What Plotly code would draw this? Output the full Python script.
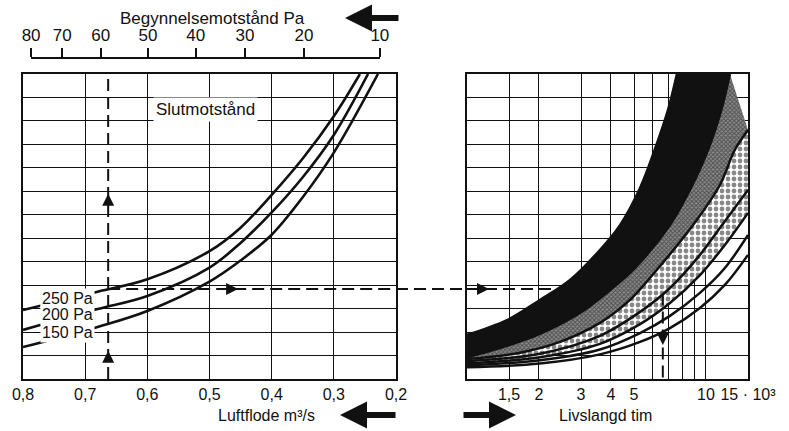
import math
import plotly.graph_objects as go

W, H = 789, 431
BLACK = "#111111"
FONT = "Liberation Sans, Arial, Helvetica, sans-serif"

# ---------------- Left panel: air flow (m3/s) ----------------
flow_ticks = [0.8, 0.7, 0.6, 0.5, 0.4, 0.3, 0.2]
flow_labels = ["0,8", "0,7", "0,6", "0,5", "0,4", "0,3", "0,2"]

# top scale: initial resistance (Pa), placed at the flow where it occurs
init_res_labels = ["80", "70", "60", "50", "40", "30", "20", "10"]
init_res_flow = [0.787, 0.737, 0.675, 0.599, 0.522, 0.443, 0.348, 0.226]

# final resistance curves (y in grid units, 0..13)
c250_q = [0.80, 0.68, 0.60, 0.50, 0.45, 0.40, 0.35, 0.30, 0.258]
c250_u = [2.94, 3.72, 4.25, 5.45, 6.45, 7.85, 9.40, 11.2, 13.0]
c200_q = [0.80, 0.68, 0.60, 0.50, 0.45, 0.40, 0.35, 0.30, 0.245]
c200_u = [2.09, 2.98, 3.54, 4.75, 5.80, 7.10, 8.60, 10.4, 13.0]
c150_q = [0.80, 0.68, 0.60, 0.50, 0.45, 0.40, 0.35, 0.30, 0.229]
c150_u = [1.36, 2.22, 2.90, 4.15, 5.05, 6.15, 7.75, 9.65, 13.0]
pa_labels = ["250 Pa", "200 Pa", "150 Pa"]
pa_label_u = [3.45, 2.73, 2.0]
pa_label_q = 0.684

# ---------------- Right panel: lifetime (10^3 h) ----------------
life_ticks = [1.5, 2, 3, 4, 5, 6, 7, 8, 9, 10, 15]
life_labels = ["1,5", "2", "3", "4", "5", "", "", "", "", "10", "15 · 10³"]

b1_x = [1.0, 1.47, 2.02, 2.70, 3.60, 4.37, 5.30, 6.10, 6.94, 7.56]
b1_u = [1.88, 2.51, 3.37, 4.22, 5.50, 6.56, 8.14, 9.76, 11.47, 13.0]
b2_x = [1.0, 1.47, 2.02, 2.97, 3.97, 5.04, 7.07, 8.57, 10.2, 11.6, 12.6]
b2_u = [0.92, 1.41, 1.92, 2.81, 3.79, 4.73, 6.56, 8.06, 9.76, 11.47, 13.0]
b3_x = [1.0, 1.667, 2.45, 3.60, 4.81, 6.12, 8.83, 11.44, 13.2, 15.0]
b3_u = [0.85, 1.12, 1.58, 2.39, 3.37, 4.56, 6.56, 8.27, 9.76, 10.61]
b4_x = [1.0, 2.02, 3.60, 5.30, 7.07, 9.44, 11.44, 15.0]
b4_u = [0.76, 1.08, 1.84, 2.86, 3.88, 5.29, 6.44, 8.06]
b5_x = [1.0, 2.02, 3.60, 5.30, 7.07, 9.44, 12.0, 15.0]
b5_u = [0.67, 0.93, 1.50, 2.34, 3.24, 4.43, 5.71, 7.08]
b6_x = [1.0, 2.02, 3.60, 5.30, 7.07, 9.44, 12.0, 15.0]
b6_u = [0.59, 0.80, 1.26, 1.96, 2.69, 3.67, 4.73, 6.14]
b7_x = [1.0, 2.02, 3.60, 5.30, 7.07, 9.44, 12.0, 15.0]
b7_u = [0.50, 0.66, 1.05, 1.58, 2.17, 3.03, 4.01, 5.29]

# worked example (dashed guide)
ex_flow = 0.663
ex_u = 3.84
ex_life_meet = 2.27
ex_life = 6.6
ex_up_arrows_u = [7.9, 1.2]
ex_right_arrow_q = 0.454
ex_right_arrow_life = 1.236
ex_down_arrow_u = 1.45

# ---------------- geometry ----------------
LX = [23 / W, 396 / W]
RX = [467 / W, 748 / W]
YD = [(H - 379) / H, (H - 74) / H]
TOPY = (H - 59) / H


def flow_to_paper(q):
    return LX[0] + (0.8 - q) / 0.6 * (LX[1] - LX[0])


fig = go.Figure()

dots = dict(shape=".", size=6, solidity=0.5, fgcolor=BLACK, bgcolor="white")
hatch = dict(shape="x", size=3, solidity=0.55, fgcolor=BLACK, bgcolor="#8c8c8c")
band_specs = [
    (b1_x, b1_u, {}),
    (b2_x, b2_u, dict(fill="tonexty", fillcolor=BLACK)),
    (b3_x, b3_u, dict(fill="tonexty", fillpattern=hatch)),
    (b4_x, b4_u, dict(fill="tonexty", fillpattern=dots)),
    (b5_x, b5_u, dict(fill="tonexty", fillpattern=dots)),
    (b6_x, b6_u, {}),
    (b7_x, b7_u, {}),
]
for bx, bu, extra in band_specs:
    fig.add_trace(go.Scatter(x=bx, y=bu, xaxis="x2", yaxis="y2", mode="lines",
                             line=dict(color=BLACK, width=2.5, shape="spline"),
                             hoverinfo="skip", showlegend=False, **extra))

for cq, cu in [(c250_q, c250_u), (c200_q, c200_u), (c150_q, c150_u)]:
    fig.add_trace(go.Scatter(x=cq, y=cu, xaxis="x", yaxis="y", mode="lines",
                             line=dict(color=BLACK, width=2.6, shape="spline"),
                             hoverinfo="skip", showlegend=False))

dash = dict(color=BLACK, width=2, dash="12px,6px")
fig.add_trace(go.Scatter(x=[ex_flow, ex_flow], y=[0, 13], xaxis="x", yaxis="y",
                         mode="lines", line=dash, showlegend=False, hoverinfo="skip"))
fig.add_trace(go.Scatter(x=[ex_flow, 0.2], y=[ex_u, ex_u], xaxis="x", yaxis="y",
                         mode="lines", line=dash, showlegend=False, hoverinfo="skip"))
fig.add_trace(go.Scatter(x=[1.0, ex_life_meet], y=[ex_u, ex_u], xaxis="x2", yaxis="y2",
                         mode="lines", line=dash, showlegend=False, hoverinfo="skip"))
fig.add_trace(go.Scatter(x=[ex_life, ex_life], y=[ex_u - 0.2, 0], xaxis="x2", yaxis="y2",
                         mode="lines", line=dash, showlegend=False, hoverinfo="skip"))

mk = dict(color=BLACK, size=12, line=dict(width=0))
fig.add_trace(go.Scatter(x=[ex_flow] * 2, y=ex_up_arrows_u, xaxis="x", yaxis="y", mode="markers",
                         marker=dict(symbol="arrow-up", **mk), showlegend=False, hoverinfo="skip"))
fig.add_trace(go.Scatter(x=[ex_right_arrow_q], y=[ex_u], xaxis="x", yaxis="y", mode="markers",
                         marker=dict(symbol="arrow-right", **mk), showlegend=False, hoverinfo="skip"))
fig.add_trace(go.Scatter(x=[ex_right_arrow_life], y=[ex_u], xaxis="x2", yaxis="y2", mode="markers",
                         marker=dict(symbol="arrow-right", **mk), showlegend=False, hoverinfo="skip"))
fig.add_trace(go.Scatter(x=[ex_life], y=[ex_down_arrow_u], xaxis="x2", yaxis="y2", mode="markers",
                         marker=dict(symbol="arrow-down", **mk), showlegend=False, hoverinfo="skip"))

# invisible trace to instantiate the top scale
fig.add_trace(go.Scatter(x=[init_res_flow[0]], y=[0], xaxis="x3", yaxis="y3", mode="markers",
                         marker=dict(opacity=0), showlegend=False, hoverinfo="skip"))

frame = dict(showline=True, mirror=True, linewidth=2, linecolor=BLACK, showgrid=True,
             gridcolor=BLACK, gridwidth=1.3, zeroline=False, ticks="", automargin=False)
yframe = dict(range=[0, 13], dtick=1, tick0=0, showticklabels=False, domain=YD, **frame)

fig.update_layout(
    width=W, height=H, margin=dict(l=0, r=0, t=0, b=0, autoexpand=False), autosize=False,
    paper_bgcolor="white", plot_bgcolor="white",
    font=dict(family=FONT, color=BLACK, size=16),
    xaxis=dict(domain=LX, range=[0.8, 0.2], tickvals=flow_ticks, ticktext=flow_labels,
               anchor="y", tickfont=dict(size=16), **frame),
    yaxis=dict(anchor="x", **yframe),
    xaxis2=dict(domain=RX, type="log", range=[0, math.log10(15)], tickvals=life_ticks,
                ticktext=life_labels, anchor="y2", tickfont=dict(size=16), **frame),
    yaxis2=dict(anchor="x2", **yframe),
    xaxis3=dict(domain=[flow_to_paper(init_res_flow[0]), flow_to_paper(init_res_flow[-1])],
                range=[init_res_flow[0], init_res_flow[-1]], tickvals=init_res_flow,
                ticktext=init_res_labels, side="top", anchor="y3", ticks="outside",
                ticklen=9, tickwidth=2, tickcolor=BLACK, showline=True, linewidth=2,
                linecolor=BLACK, showgrid=False, zeroline=False, tickfont=dict(size=17),
                automargin=False),
    yaxis3=dict(domain=[TOPY - 0.03, TOPY], anchor="x3", visible=False, range=[0, 1]),
)

fig.add_shape(type="line", xref="paper", yref="y", x0=LX[1], x1=RX[0], y0=ex_u, y1=ex_u,
              line=dash)

ann = []
for lab, u in zip(pa_labels, pa_label_u):
    ann.append(dict(x=pa_label_q, y=u, xref="x", yref="y", text=lab, xanchor="right",
                    yanchor="middle", showarrow=False, bgcolor="white", borderpad=1,
                    font=dict(size=16)))
ann.append(dict(x=0.506, y=11.5, xref="x", yref="y", text="Slutmotstånd", showarrow=False,
                xanchor="center", yanchor="middle", bgcolor="white", borderpad=2,
                font=dict(size=17)))
ann.append(dict(x=1.53, y=11.5, xref="x2", yref="y2", text="Användnings<br>område",
                xanchor="left", yanchor="middle", align="left", showarrow=False,
                bgcolor="white", borderpad=3, font=dict(size=16)))
ann.append(dict(x=212 / W, y=(H - 18) / H, xref="paper", yref="paper",
                text="Begynnelsemotstånd Pa", showarrow=False, xanchor="center",
                yanchor="middle", font=dict(size=17)))
ann.append(dict(x=266 / W, y=(H - 415) / H, xref="paper", yref="paper",
                text="Luftflode m³/s", showarrow=False, xanchor="center", yanchor="middle",
                font=dict(size=16)))
ann.append(dict(x=605 / W, y=(H - 415) / H, xref="paper", yref="paper",
                text="Livslangd tim", showarrow=False, xanchor="center", yanchor="middle",
                font=dict(size=16)))
# big direction arrows
for hx, hy, dx in [(345, 18, 55), (340, 415, 57), (516, 415, -54)]:
    ann.append(dict(x=hx / W, y=(H - hy) / H, xref="paper", yref="paper", ax=dx, ay=0,
                    text="", showarrow=True, arrowhead=2, arrowsize=0.9, arrowwidth=6,
                    arrowcolor=BLACK))
fig.update_layout(annotations=ann)

fig.write_html("out.html",
               config={"displayModeBar": False},
               post_script="document.body.style.margin='0px';"
                           "document.body.style.overflow='hidden';")
